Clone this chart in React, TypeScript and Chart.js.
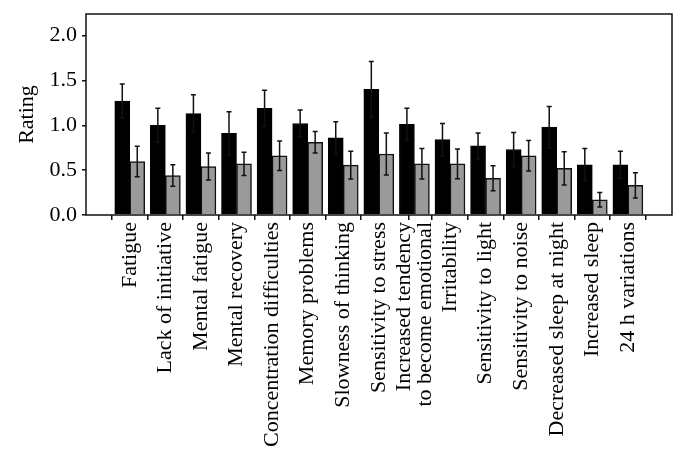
import { useEffect, useRef } from 'react';
import { Chart, registerables } from 'chart.js';

Chart.register(...registerables);

const categories: (string | string[])[] = [
  'Fatigue',
  'Lack of initiative',
  'Mental fatigue',
  'Mental recovery',
  'Concentration difficulties',
  'Memory problems',
  'Slowness of thinking',
  'Sensitivity to stress',
  ['Increased tendency', 'to become emotional'],
  'Irritability',
  'Sensitivity to light',
  'Sensitivity to noise',
  'Decreased sleep at night',
  'Increased sleep',
  '24 h variations',
];
const blackValues = [1.27, 1.0, 1.13, 0.91, 1.19, 1.02, 0.86, 1.4, 1.01, 0.84, 0.77, 0.73, 0.98, 0.56, 0.56];
const blackErrors = [0.19, 0.19, 0.21, 0.24, 0.2, 0.15, 0.18, 0.31, 0.18, 0.18, 0.145, 0.19, 0.23, 0.18, 0.15];
const grayValues = [0.595, 0.44, 0.54, 0.57, 0.66, 0.81, 0.555, 0.68, 0.57, 0.57, 0.41, 0.66, 0.52, 0.17, 0.33];
const grayErrors = [0.17, 0.12, 0.15, 0.13, 0.165, 0.12, 0.155, 0.235, 0.17, 0.165, 0.14, 0.17, 0.185, 0.08, 0.14];
const yTicks = [0, 0.5, 1.0, 1.5, 2.0];

const FONT = "'Liberation Serif', 'DejaVu Serif', serif";
const FONT_SIZE = 22;
const X_LINE_HEIGHT = 0.95;
const X_MIN = -1.23;
const X_MAX = 15.24;

const errorBarPlugin = {
  id: 'errorBars',
  afterDatasetsDraw(chart: any) {
    const ctx = chart.ctx;
    const yScale = chart.scales.y;
    const errs = [blackErrors, grayErrors];
    const vals = [blackValues, grayValues];
    ctx.save();
    ctx.strokeStyle = '#111';
    ctx.lineWidth = 1.5;
    chart.data.datasets.forEach((_: any, di: number) => {
      const meta = chart.getDatasetMeta(di);
      meta.data.forEach((bar: any, i: number) => {
        const v = vals[di][i];
        const e = errs[di][i];
        const x = bar.x;
        const yTop = yScale.getPixelForValue(v + e);
        const yBot = yScale.getPixelForValue(v - e);
        ctx.beginPath();
        ctx.moveTo(x, yTop);
        ctx.lineTo(x, yBot);
        ctx.moveTo(x - 2.5, yTop);
        ctx.lineTo(x + 2.5, yTop);
        ctx.moveTo(x - 2.5, yBot);
        ctx.lineTo(x + 2.5, yBot);
        ctx.stroke();
      });
    });
    ctx.restore();
  },
};

const boxPlugin = {
  id: 'frameBox',
  afterDraw(chart: any) {
    const { left, top, right, bottom } = chart.chartArea;
    const ctx = chart.ctx;
    ctx.save();
    ctx.strokeStyle = '#111';
    ctx.lineWidth = 1.5;
    ctx.strokeRect(left, top, right - left, bottom - top);
    ctx.restore();
  },
};

export default function App() {
  const ref = useRef<HTMLCanvasElement>(null);
  useEffect(() => {
    const chart = new Chart(ref.current!, {
      type: 'bar',
      data: {
        datasets: [
          {
            label: 'Group A',
            data: blackValues.map((v, i) => ({ x: i, y: v })),
            backgroundColor: '#000000',
            borderColor: '#000000',
            borderWidth: 1,
          },
          {
            label: 'Group B',
            data: grayValues.map((v, i) => ({ x: i, y: v })),
            backgroundColor: '#9a9a9a',
            borderColor: '#111111',
            borderWidth: 1.5,
          },
        ],
      },
      options: {
        animation: false,
        responsive: false,
        maintainAspectRatio: false,
        barThickness: 15,
        layout: { padding: { top: 14, right: 14, left: 0, bottom: 0 } },
        plugins: { legend: { display: false }, tooltip: { enabled: false } },
        scales: {
          x: {
            type: 'linear',
            min: X_MIN,
            max: X_MAX,
            offset: false,
            afterBuildTicks: (s: any) => {
              const pxPerUnit = 586 / (X_MAX - X_MIN);
              const shift = (FONT_SIZE * X_LINE_HEIGHT) / 2 / pxPerUnit;
              const list: any[] = [];
              categories.forEach((c, i) => {
                if (Array.isArray(c)) {
                  list.push({ value: i - shift, labelIdx: i, mark: false });
                  list.push({ value: i, labelIdx: -1, mark: true });
                } else {
                  list.push({ value: i, labelIdx: i, mark: true });
                }
              });
              s.ticks = list;
            },
            afterFit: (s: any) => {
              s.height = 474 - 215;
              s.paddingLeft = 0;
              s.paddingRight = 0;
            },
            ticks: {
              autoSkip: false,
              maxRotation: 90,
              minRotation: 90,
              padding: 2,
              color: '#000',
              font: { family: FONT, size: FONT_SIZE, lineHeight: X_LINE_HEIGHT },
              callback: (_v: any, idx: number, ticks: any[]) => {
                const li = ticks[idx].labelIdx;
                return li >= 0 ? (categories[li] as any) : '';
              },
            },
            grid: {
              drawOnChartArea: false,
              drawTicks: true,
              tickLength: 5,
              color: (ctx: any) => (ctx.tick && ctx.tick.mark === false ? 'rgba(0,0,0,0)' : '#111'),
              tickColor: (ctx: any) => (ctx.tick && ctx.tick.mark === false ? 'rgba(0,0,0,0)' : '#111'),
              lineWidth: 1.5,
            },
            border: { display: false },
          },
          y: {
            min: 0,
            max: 2.24,
            afterBuildTicks: (s: any) => {
              s.ticks = yTicks.map((v) => ({ value: v }));
            },
            afterFit: (s: any) => {
              s.width = 86;
              s.paddingTop = 0;
              s.paddingBottom = 0;
            },
            ticks: {
              padding: 5,
              color: '#000',
              font: { family: FONT, size: FONT_SIZE },
              callback: (v: any) => Number(v).toFixed(1),
            },
            grid: {
              drawOnChartArea: false,
              drawTicks: true,
              tickLength: 4,
              color: '#111',
              lineWidth: 1.5,
            },
            border: { display: false },
            title: {
              display: true,
              text: 'Rating',
              color: '#000',
              font: { family: FONT, size: FONT_SIZE },
              padding: { top: 14, bottom: 0 },
            },
          },
        },
      },
      plugins: [errorBarPlugin, boxPlugin],
    });
    return () => chart.destroy();
  }, []);
  return (
    <div style={{ position: 'absolute', left: 0, top: 0, width: 686, height: 474, background: '#fff' }}>
      <canvas ref={ref} width={686} height={474} style={{ display: 'block', width: 686, height: 474 }} />
    </div>
  );
}
